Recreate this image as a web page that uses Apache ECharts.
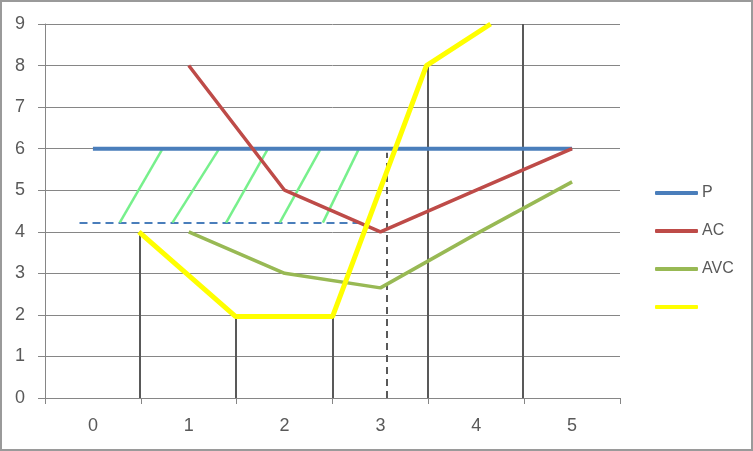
<!DOCTYPE html>
<html>
<head>
<meta charset="utf-8">
<script src="https://cdn.jsdelivr.net/npm/echarts@6/dist/echarts.min.js"></script>
<style>
  html, body { margin: 0; padding: 0; background: #fff; }
  #wrap { width: 753px; height: 451px; box-sizing: border-box; border: 2px solid #9a9a9a; position: relative; }
  #chart { position: absolute; left: -2px; top: -2px; width: 753px; height: 451px; }
</style>
</head>
<body>
<div id="wrap"><div id="chart"></div></div>
<script>
// Category labels on x axis
var categories = ['0', '1', '2', '3', '4', '5'];
var yTicks = [0, 1, 2, 3, 4, 5, 6, 7, 8, 9];

// P (price)
var pX = [0, 1, 2, 3, 4, 5];
var pValues = [6, 6, 6, 6, 6, 6];
// AC
var acX = [1, 2, 3, 4, 5];
var acValues = [8, 5, 4, 5, 6];
// AVC
var avcX = [1, 2, 3, 4, 5];
var avcValues = [4, 3, 2.65, 3.95, 5.2];
// Yellow (unnamed) curve
var yellowX = [0.48, 1.49, 2.5, 3.48, 4.15];
var yellowValues = [4, 1.96, 1.96, 8, 9];

// Solid drop lines
var dropX = [0.49, 1.49, 2.5, 3.49, 4.49];
var dropTop = [4, 2, 2, 8, 9];
// Dashed vertical
var dashVX = 3.07;
var dashVTop = 5.9;
// Dashed horizontal
var dashHY = 4.22;
var dashHFrom = -0.14;
var dashHTo = 2.78;
// Hatch lines
var hatchBottomX = [0.28, 0.83, 1.39, 1.95, 2.40];
var hatchTopX = [0.72, 1.31, 1.82, 2.37, 2.77];
var hatchBottomY = 4.22;
var hatchTopY = 5.97;

function zip(xs, ys) { return xs.map(function (x, i) { return [x, ys[i]]; }); }

var chart = echarts.init(document.getElementById('chart'));
var font = 'Liberation Sans, Arial, sans-serif';
var axisGray = '#868686';
var labelGray = '#595959';

var option = {
  animation: false,
  backgroundColor: 'transparent',
  grid: { left: 45, right: 133, top: 24, bottom: 53, containLabel: false },
  legend: {
    orient: 'vertical',
    left: 650,
    top: 180,
    itemWidth: 43,
    itemHeight: 4,
    itemGap: 22,
    icon: 'roundRect',
    textStyle: { fontFamily: font, fontSize: 16, color: labelGray, lineHeight: 16, padding: [0, 0, 0, -1] },
    data: ['P', 'AC', 'AVC', ' ']
  },
  xAxis: [
    {
      type: 'category',
      data: categories,
      boundaryGap: true,
      axisLine: { onZero: false, lineStyle: { color: axisGray, width: 1 } },
      axisTick: { show: true, length: 6, lineStyle: { color: axisGray } },
      axisLabel: { fontFamily: font, fontSize: 18, color: labelGray, margin: 19 },
      splitLine: { show: false }
    },
    {
      type: 'value',
      min: -0.5,
      max: 5.5,
      show: false,
      splitLine: { show: false },
      axisLine: { onZero: false }
    }
  ],
  yAxis: {
    type: 'value',
    min: yTicks[0],
    max: yTicks[yTicks.length - 1],
    interval: 1,
    axisLine: { show: true, onZero: false, lineStyle: { color: axisGray, width: 1 } },
    axisTick: { show: true, length: 7, lineStyle: { color: axisGray } },
    axisLabel: { fontFamily: font, fontSize: 18, color: labelGray, margin: 20 },
    splitLine: { show: true, lineStyle: { color: axisGray, width: 1 } }
  },
  series: [
    {
      type: 'lines', coordinateSystem: 'cartesian2d', xAxisIndex: 1, z: 3,
      polyline: false,
      lineStyle: { color: '#595959', width: 2, opacity: 1 },
      data: dropX.map(function (x, i) { return { coords: [[x, 0], [x, dropTop[i]]] }; })
    },
    {
      type: 'lines', coordinateSystem: 'cartesian2d', xAxisIndex: 1, z: 3,
      lineStyle: { color: '#595959', width: 2, type: [7, 5], opacity: 1 },
      data: [{ coords: [[dashVX, 0], [dashVX, dashVTop]] }]
    },
    {
      type: 'lines', coordinateSystem: 'cartesian2d', xAxisIndex: 1, z: 3,
      lineStyle: { color: '#4a7ebb', width: 2, type: [8, 5], opacity: 1 },
      data: [{ coords: [[dashHFrom, dashHY], [dashHTo, dashHY]] }]
    },
    {
      type: 'lines', coordinateSystem: 'cartesian2d', xAxisIndex: 1, z: 3,
      lineStyle: { color: '#77f08c', width: 2.5, opacity: 1 },
      data: hatchBottomX.map(function (x, i) { return { coords: [[x, hatchBottomY], [hatchTopX[i], hatchTopY]] }; })
    },
    {
      name: 'P', type: 'line', xAxisIndex: 1, z: 4,
      data: zip(pX, pValues), showSymbol: false, symbol: 'none',
      lineStyle: { color: '#4a7ebb', width: 4 }, itemStyle: { color: '#4a7ebb' }
    },
    {
      name: 'AC', type: 'line', xAxisIndex: 1, z: 4,
      data: zip(acX, acValues), showSymbol: false, symbol: 'none',
      lineStyle: { color: '#be4b48', width: 3.5 }, itemStyle: { color: '#be4b48' }
    },
    {
      name: 'AVC', type: 'line', xAxisIndex: 1, z: 4,
      data: zip(avcX, avcValues), showSymbol: false, symbol: 'none',
      lineStyle: { color: '#98b954', width: 3.5 }, itemStyle: { color: '#98b954' }
    },
    {
      name: ' ', type: 'line', xAxisIndex: 1, z: 5,
      data: zip(yellowX, yellowValues), showSymbol: false, symbol: 'none',
      lineStyle: { color: '#ffff00', width: 5 }, itemStyle: { color: '#ffff00' }
    }
  ]
};
chart.setOption(option);
</script>
</body>
</html>
